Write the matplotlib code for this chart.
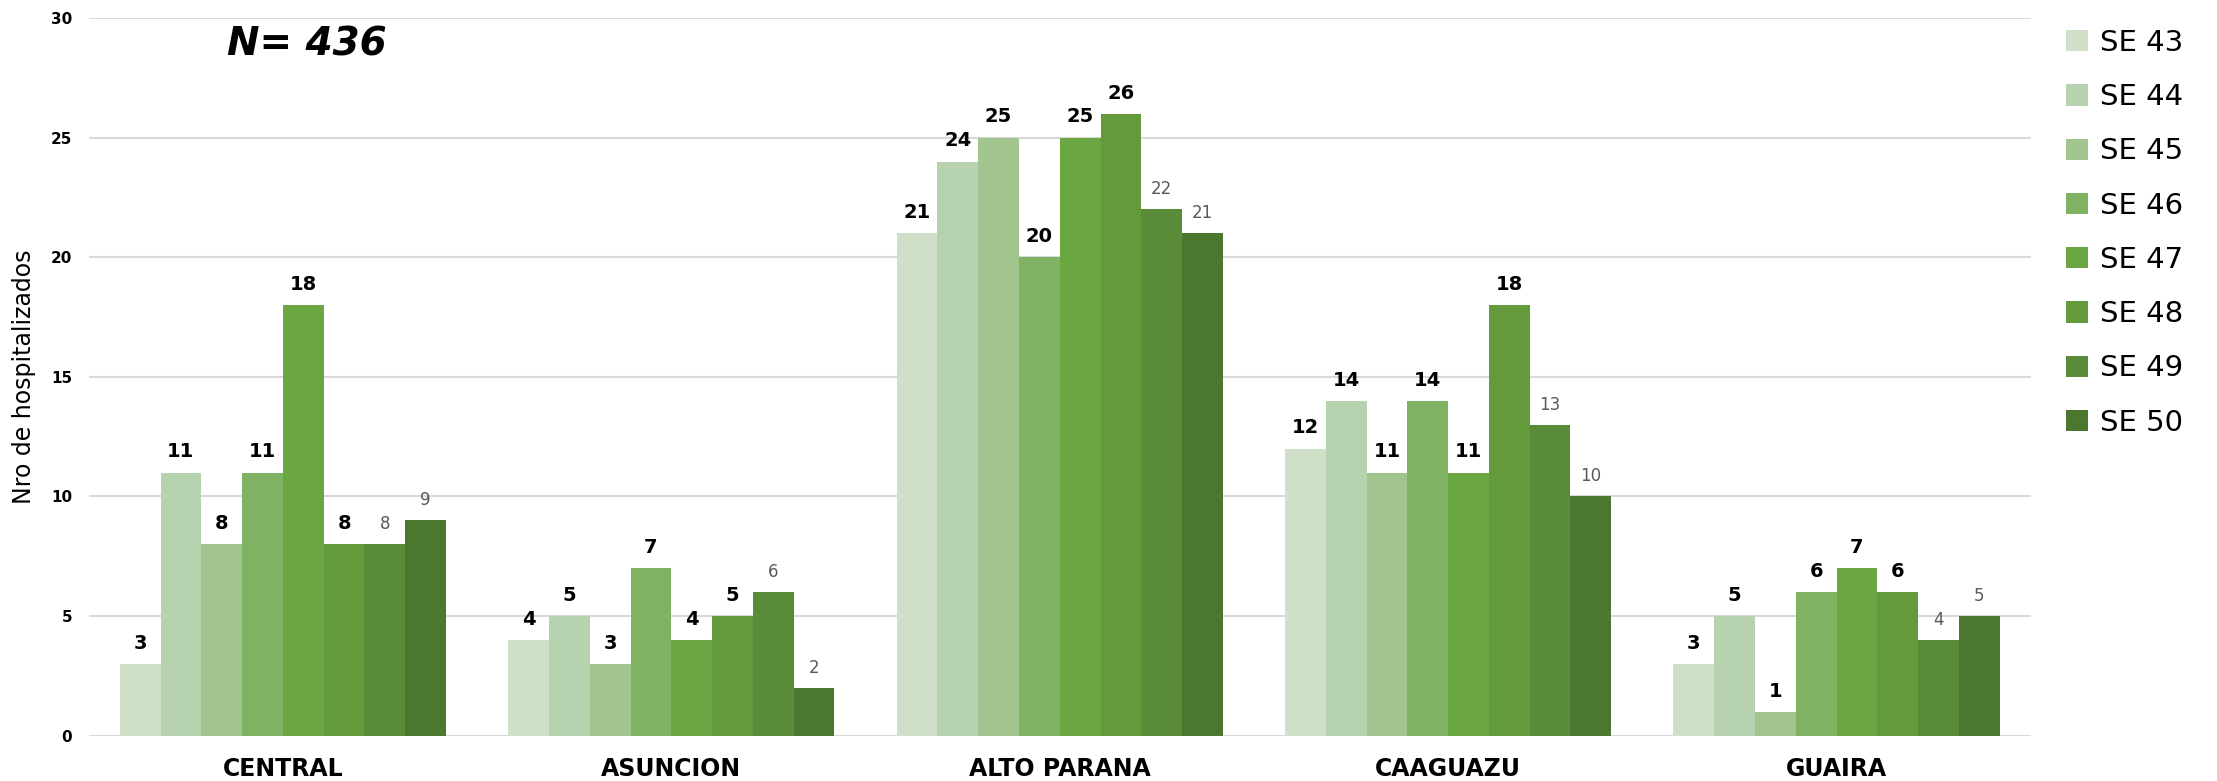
import numpy as np
import matplotlib.pyplot as plt

plt.rcParams['font.family'] = ['DejaVu Sans']

# Data
departamentos = ['CENTRAL', 'ASUNCION', 'ALTO PARANA', 'CAAGUAZU', 'GUAIRA']
semanas = ['SE 43', 'SE 44', 'SE 45', 'SE 46', 'SE 47', 'SE 48', 'SE 49', 'SE 50']
se43 = [3, 4, 21, 12, 3]
se44 = [11, 5, 24, 14, 5]
se45 = [8, 3, 25, 11, 1]
se46 = [11, 7, 20, 14, 6]
se47 = [18, 4, 25, 11, 7]
se48 = [8, 5, 26, 18, 6]
se49 = [8, 6, 22, 13, 4]
se50 = [9, 2, 21, 10, 5]
series = [se43, se44, se45, se46, se47, se48, se49, se50]

colores = ['#d0dfc8', '#b7d2ae', '#a2c48f', '#80b264', '#6aa642',
           '#629a3c', '#5a8b38', '#4c772f']

fig = plt.figure(figsize=(22.17, 7.81), dpi=100)
ax = fig.add_axes([0.040, 0.058, 0.876, 0.919])

x = np.arange(len(departamentos))
n = len(series)
grupo = 0.84
ancho = grupo / n

for i, vals in enumerate(series):
    pos = x - grupo / 2 + ancho * (i + 0.5)
    ax.bar(pos, vals, width=ancho, color=colores[i], label=semanas[i], zorder=2)
    for p, v in zip(pos, vals):
        if i >= 6:
            ax.annotate(str(v), (p, v), xytext=(0, 8), textcoords='offset points',
                        ha='center', va='bottom', fontsize=12, color='#595959')
        else:
            ax.annotate(str(v), (p, v), xytext=(0, 8), textcoords='offset points',
                        ha='center', va='bottom', fontsize=14, fontweight='bold',
                        color='black')

ax.set_ylim(0, 30)
ax.set_xlim(-0.5, 4.5)
ax.set_yticks(range(0, 31, 5))
ax.set_xticks(x)
ax.set_xticklabels(departamentos, fontsize=17, fontweight='bold')
ax.tick_params(axis='y', labelsize=11, length=0, pad=12)
ax.tick_params(axis='x', length=0, pad=15)
for lbl in ax.get_yticklabels():
    lbl.set_fontweight('bold')
ax.grid(axis='y', color='#d9d9d9', linewidth=1.5, zorder=0)
ax.set_axisbelow(True)
for s in ax.spines.values():
    s.set_visible(False)

ax.set_ylabel('Nro de hospitalizados', fontsize=17)
ax.yaxis.set_label_coords(-0.027, 0.5)

fig.text(307 / 2217, 1 - 45 / 781, 'N= 436', fontsize=28,
         fontweight='bold', style='italic', ha='center', va='center')

fig.legend(loc='upper left', bbox_to_anchor=(0.932, 0.963), frameon=False,
           fontsize=21, handlelength=0.75, handleheight=0.75,
           labelspacing=0.9, handletextpad=0.4, borderpad=0, borderaxespad=0)

fig.savefig('out.png', dpi=100)
